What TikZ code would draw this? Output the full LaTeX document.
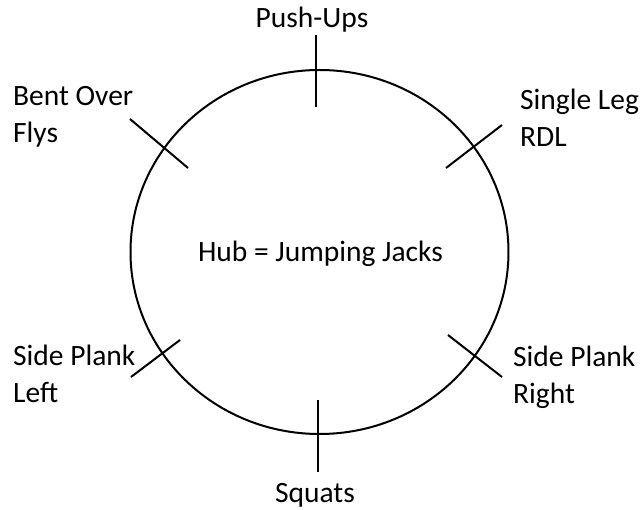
\documentclass[tikz,border=0pt]{standalone}
\usepackage{fontspec}
\setmainfont{Carlito}
\usetikzlibrary{shapes.geometric}
\begin{document}
\begin{tikzpicture}[x=1pt,y=-1pt,
  lbl/.style={inner sep=0pt,font=\fontsize{29.5}{37}\selectfont,align=left},
  tick/.style={line width=2pt},
  rim/.style={draw,ellipse,line width=2pt,inner sep=0pt,minimum width=378pt,minimum height=364pt}]
\useasboundingbox (0,0) rectangle (641,510);
\node[rim] (hub) at (319.5,252) {};
\node[lbl,anchor=base] (hubtext) at (320.5,262) {Hub = Jumping Jacks};
% labels (base anchor = baseline of last line)
\node[lbl,anchor=base] (push) at (312,28) {Push-Ups};
\node[lbl,anchor=base west] (bent) at (13,143) {Bent Over\\Flys};
\node[lbl,anchor=base west] (single) at (520,147) {Single Leg\\RDL};
\node[lbl,anchor=base west] (spl) at (13,403) {Side Plank\\Left};
\node[lbl,anchor=base west] (spr) at (513,404) {Side Plank\\Right};
\node[lbl,anchor=base] (squats) at (315,503) {Squats};
% tick ends
\coordinate (t1) at (316,35);  \coordinate (t2) at (316,107);
\coordinate (b1) at (130,119); \coordinate (b2) at (188,168);
\coordinate (s1) at (446,168); \coordinate (s2) at (502,125);
\coordinate (l1) at (131,377); \coordinate (l2) at (180,340);
\coordinate (r1) at (448,335); \coordinate (r2) at (502,377);
\coordinate (q1) at (318,400); \coordinate (q2) at (318,472);
\draw[tick] (t1) -- (t2);
\draw[tick] (b1) -- (b2);
\draw[tick] (s1) -- (s2);
\draw[tick] (l1) -- (l2);
\draw[tick] (r1) -- (r2);
\draw[tick] (q1) -- (q2);
\end{tikzpicture}
\end{document}
